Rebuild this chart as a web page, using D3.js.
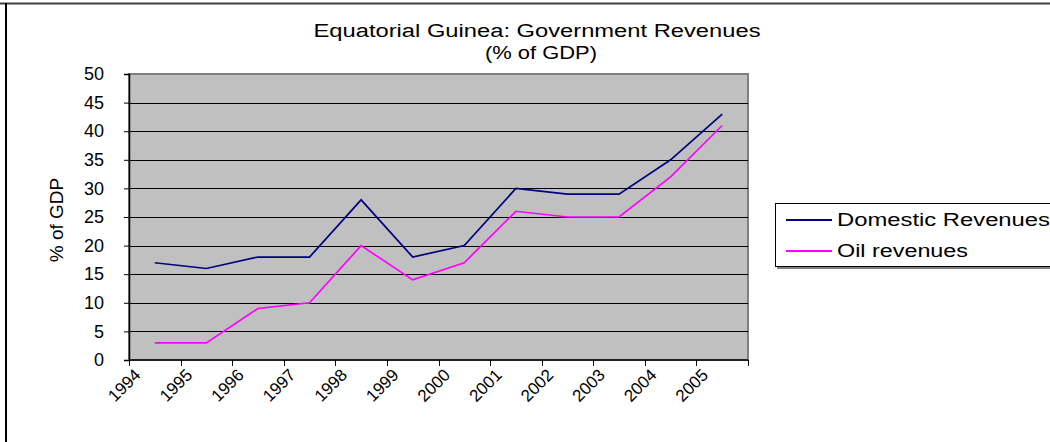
<!DOCTYPE html>
<html>
<head>
<meta charset="utf-8">
<script src="https://cdn.jsdelivr.net/npm/d3@7"></script>
<style>
  html, body { margin: 0; padding: 0; background: #fff; }
  svg { display: block; }
  text { font-family: "Liberation Sans", Arial, sans-serif; fill: #000; }
</style>
</head>
<body>
<svg id="chart" width="1050" height="442"></svg>
<script>
const years = ["1994","1995","1996","1997","1998","1999","2000","2001","2002","2003","2004","2005"];
const domesticRevenues = [17, 16, 18, 18, 28, 18, 20, 30, 29, 29, 35, 43];
const oilRevenues = [3, 3, 9, 10, 20, 14, 17, 26, 25, 25, 32, 41];
const yTicks = [0, 5, 10, 15, 20, 25, 30, 35, 40, 45, 50];
const seriesNames = ["Domestic Revenues", "Oil revenues"];
const seriesColors = ["#000080", "#FF00FF"];
const titleLines = ["Equatorial Guinea: Government Revenues", "(% of GDP)"];
const yAxisTitle = "% of GDP";

const svg = d3.select("#chart");
const W = 1050, H = 442;
const plot = {left: 129, right: 748, top: 74, bottom: 360};

// outer chart border (top and left visible)
svg.append("line").attr("x1", 0).attr("x2", W).attr("y1", 3.5).attr("y2", 3.5)
  .attr("stroke", "#404040").attr("stroke-width", 2);
svg.append("line").attr("x1", 6).attr("x2", 6).attr("y1", 3).attr("y2", H)
  .attr("stroke", "#000").attr("stroke-width", 2);

const x = d3.scaleBand().domain(years).range([plot.left, plot.right]).padding(0);
const y = d3.scaleLinear().domain([0, 50]).range([plot.bottom, plot.top]);

// plot background
svg.append("rect").attr("x", plot.left).attr("y", plot.top)
  .attr("width", plot.right - plot.left).attr("height", plot.bottom - plot.top)
  .attr("fill", "#C0C0C0").attr("stroke", "#808080").attr("stroke-width", 2);

// gridlines
svg.append("g").selectAll("line").data(yTicks.filter(t => t > 0 && t < 50)).join("line")
  .attr("x1", plot.left).attr("x2", plot.right)
  .attr("y1", d => Math.round(y(d)) + 0.5).attr("y2", d => Math.round(y(d)) + 0.5)
  .attr("stroke", "#000").attr("stroke-width", 1);

// y axis
const yAxis = svg.append("g").attr("transform", `translate(${plot.left},0)`)
  .call(d3.axisLeft(y).tickValues(yTicks).tickSize(5).tickPadding(20));
yAxis.select(".domain").attr("stroke", "#000").attr("stroke-width", 1.5);
yAxis.selectAll(".tick line").attr("stroke", "#000");
yAxis.selectAll(".tick text").attr("font-size", 18).attr("font-family", "Liberation Sans, Arial, sans-serif");

// x axis: line + boundary ticks
svg.append("line").attr("x1", plot.left).attr("x2", plot.right)
  .attr("y1", plot.bottom).attr("y2", plot.bottom).attr("stroke", "#000").attr("stroke-width", 1.5);
const edges = years.map(d => x(d)).concat([plot.right]);
svg.append("g").selectAll("line").data(edges).join("line")
  .attr("x1", d => Math.round(d) + 0.5).attr("x2", d => Math.round(d) + 0.5)
  .attr("y1", plot.bottom).attr("y2", plot.bottom + 6).attr("stroke", "#000");

// x labels rotated
svg.append("g").selectAll("text").data(years).join("text")
  .attr("transform", d => `translate(${x(d) + x.bandwidth() / 2 - 13},376) rotate(-45)`)
  .attr("text-anchor", "end").attr("font-size", 17)
  .text(d => d);

// lines
const line = d3.line().x((d, i) => x(years[i]) + x.bandwidth() / 2).y(d => y(d));
[domesticRevenues, oilRevenues].forEach((s, k) => {
  svg.append("path").datum(s).attr("d", line).attr("fill", "none")
    .attr("stroke", seriesColors[k]).attr("stroke-width", 1.7).attr("stroke-linejoin", "miter");
});

// title
svg.append("text").attr("x", 537).attr("y", 37).attr("text-anchor", "middle")
  .attr("font-size", 18).attr("textLength", 447).attr("lengthAdjust", "spacingAndGlyphs")
  .text(titleLines[0]);
svg.append("text").attr("x", 541).attr("y", 59).attr("text-anchor", "middle")
  .attr("font-size", 18).attr("textLength", 112).attr("lengthAdjust", "spacingAndGlyphs")
  .text(titleLines[1]);

// y axis title
svg.append("text").attr("transform", "translate(63,220) rotate(-90)")
  .attr("text-anchor", "middle").attr("font-size", 19)
  .text(yAxisTitle);

// legend
const lg = svg.append("g");
lg.append("rect").attr("x", 777).attr("y", 205).attr("width", 300).attr("height", 64).attr("fill", "#808080");
lg.append("rect").attr("x", 775.5).attr("y", 203.5).attr("width", 300).attr("height", 63)
  .attr("fill", "#fff").attr("stroke", "#000").attr("stroke-width", 1);
const legendTextWidths = [213, 131];
seriesNames.forEach((n, k) => {
  const yy = [220, 251][k];
  lg.append("line").attr("x1", 786).attr("x2", 832).attr("y1", yy).attr("y2", yy)
    .attr("stroke", seriesColors[k]).attr("stroke-width", 2);
  lg.append("text").attr("x", 837).attr("y", yy + 6).attr("font-size", 18)
    .attr("textLength", legendTextWidths[k]).attr("lengthAdjust", "spacingAndGlyphs")
    .text(n);
});
</script>
</body>
</html>
